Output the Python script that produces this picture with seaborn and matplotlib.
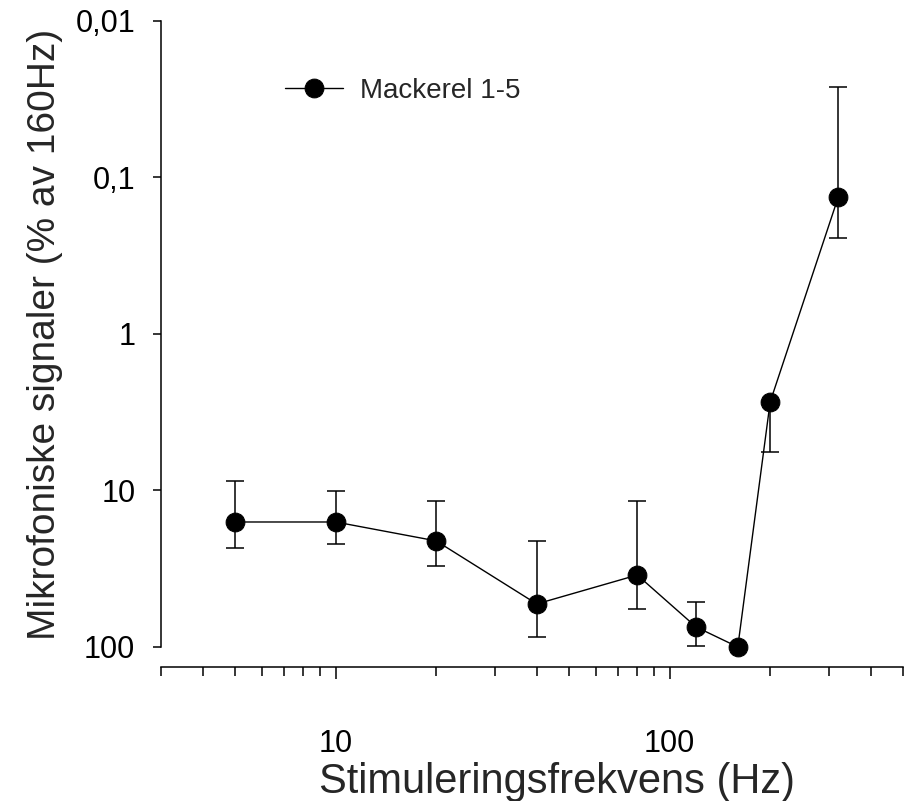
import numpy as np
import pandas as pd
import matplotlib
matplotlib.use("Agg")
import matplotlib.pyplot as plt
from matplotlib.ticker import FixedLocator, FixedFormatter, NullFormatter
import seaborn as sns

# stimulus frequency (Hz) and microphonic signal (% of 160 Hz)
freq = [5, 10, 20, 40, 80, 120, 160, 200, 320]
signal = [15.9, 15.9, 21.0, 53.1, 34.7, 74.5, 100.0, 2.72, 0.133]
# error bar ends (upper end = smaller value since axis is inverted)
err_top = [8.70, 10.1, 11.7, 21.0, 11.7, 51.5, 100.0, 2.72, 0.0264]
err_bottom = [23.3, 22.0, 30.4, 86.3, 57.2, 98.6, 100.0, 5.68, 0.244]

y_ticks = [0.01, 0.1, 1, 10, 100]
y_ticklabels = ["0,01", "0,1", "1", "10", "100"]
x_major = [10, 100]
x_major_labels = ["10", "100"]
x_minor = [3, 4, 5, 6, 7, 8, 9, 20, 30, 40, 50, 60, 70, 80, 90, 200, 300, 400, 500]

df = pd.DataFrame({"freq": freq, "signal": signal})

sns.set_style("ticks")
plt.rcParams["font.family"] = ["Liberation Sans", "DejaVu Sans"]

fig = plt.figure(figsize=(9.17, 8.01), dpi=100)
ax = fig.add_axes([0.1756, 0.1923, 0.8092, 0.7815])

lower = np.array(signal) - np.array(err_top)
upper = np.array(err_bottom) - np.array(signal)
ax.errorbar(freq, signal, yerr=[lower, upper], fmt="none", ecolor="black",
            elinewidth=1.1, capsize=6.5, capthick=1.1, zorder=2, clip_on=False)

sns.lineplot(data=df, x="freq", y="signal", marker="o", color="black",
             markersize=13.5, markeredgecolor="black", linewidth=1.0,
             label="Mackerel 1-5", ax=ax, zorder=3, clip_on=False)

ax.set_xscale("log")
ax.set_yscale("log")
ax.set_xlim(3, 500)
ax.set_ylim(100, 0.01)

ax.yaxis.set_major_locator(FixedLocator(y_ticks))
ax.yaxis.set_major_formatter(FixedFormatter(y_ticklabels))
ax.yaxis.set_minor_locator(FixedLocator([]))
ax.xaxis.set_major_locator(FixedLocator(x_major))
ax.xaxis.set_major_formatter(FixedFormatter(x_major_labels))
ax.xaxis.set_minor_locator(FixedLocator(x_minor))
ax.xaxis.set_minor_formatter(NullFormatter())

for side in ["top", "right"]:
    ax.spines[side].set_visible(False)
ax.spines["bottom"].set_position(("outward", 14.4))
for side in ["left", "bottom"]:
    ax.spines[side].set_linewidth(1.1)
    ax.spines[side].set_color("black")

ax.tick_params(axis="y", which="major", length=6, width=1.1, pad=12.5,
               labelsize=22, colors="black")
ax.tick_params(axis="x", which="major", length=8.5, width=1.1, pad=36,
               labelsize=22, colors="black")
ax.tick_params(axis="x", which="minor", length=6.5, width=1.1, colors="black")

ax.set_xlabel("Stimuleringsfrekvens (Hz)", fontsize=30, labelpad=2)
ax.xaxis.label.set_x(0.534)
ax.set_ylabel("Mikrofoniske signaler (% av 160Hz)", fontsize=28, labelpad=9)

ax.legend(loc="center left", bbox_to_anchor=(0.167, 0.888), frameon=False,
          fontsize=20, handlelength=2.1, handletextpad=0.6, borderpad=0,
          borderaxespad=0)

fig.savefig("out.png", dpi=100)
